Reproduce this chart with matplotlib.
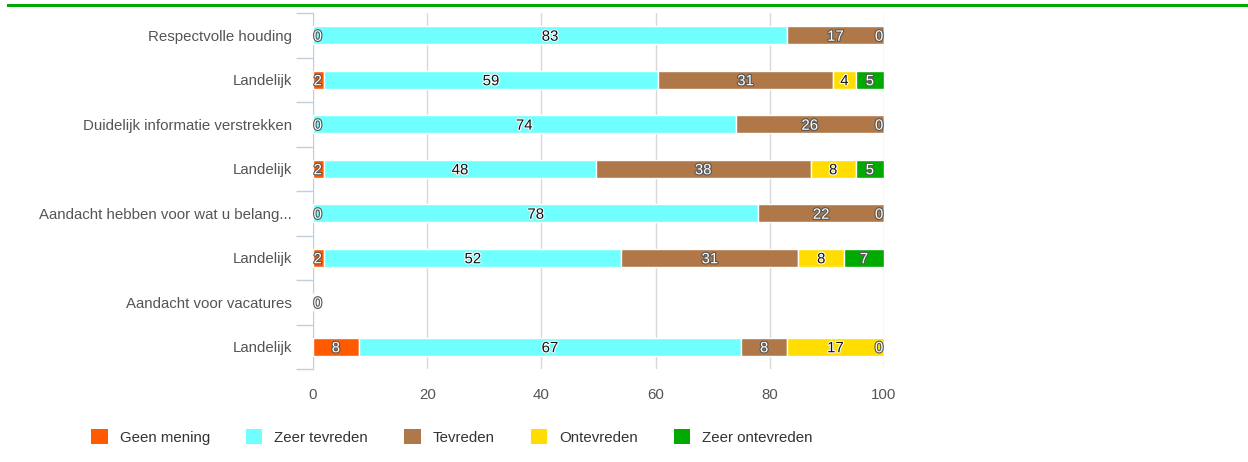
import matplotlib
matplotlib.use("Agg")
import matplotlib.pyplot as plt
import matplotlib.patheffects as pe
from matplotlib.lines import Line2D
import numpy as np

plt.rcParams['font.family'] = ['Liberation Sans', 'DejaVu Sans']

categories = ["Respectvolle houding", "Landelijk", "Duidelijk informatie verstrekken", "Landelijk",
              "Aandacht hebben voor wat u belang...", "Landelijk", "Aandacht voor vacatures", "Landelijk"]
series_names = ["Geen mening", "Zeer tevreden", "Tevreden", "Ontevreden", "Zeer ontevreden"]
geen_mening = [0, 2, 0, 2, 0, 2, 0, 8]
zeer_tevreden = [83, 59, 74, 48, 78, 52, None, 67]
tevreden = [17, 31, 26, 38, 22, 31, None, 8]
ontevreden = [0, 4, 0, 8, 0, 8, None, 17]
zeer_ontevreden = [None, 5, None, 5, None, 7, None, 0]
x_ticks = [0, 20, 40, 60, 80, 100]

colors = ["#FF5A00", "#70FFFF", "#B07848", "#FFDD00", "#00AA00"]
dark_text = [False, True, False, True, False]

all_series = [geen_mening, zeer_tevreden, tevreden, ontevreden, zeer_ontevreden]

fig = plt.figure(figsize=(12.48, 4.62), dpi=100)
ax = fig.add_axes([313/1248, 1-369/462, 571/1248, 356/462])

# top green rule
fig.add_artist(Line2D([8/1248, 1], [1-5/462, 1-5/462], color="#00AA00", lw=2.2))

fs = 10.8
n = len(categories)
ypos = np.arange(n)
totals = []
for i in range(n):
    totals.append(sum(s[i] for s in all_series if s[i] is not None))

left = np.zeros(n)
for k, (name, s) in enumerate(zip(series_names, all_series)):
    for i in range(n):
        if s[i] is None:
            continue
        w = s[i] / totals[i] * 100 if totals[i] > 0 else 0
        ax.barh(i, w, left=left[i], height=0.41, color=colors[k], edgecolor="white", linewidth=1, zorder=3)
        c = left[i] + w / 2
        ha = "center"
        if c < 1.3:
            c, ha = 0.1, "left"
        elif c > 98.7:
            c, ha = 99.9, "right"
        if dark_text[k] and w > 0:
            ax.text(c, i, str(s[i]), ha=ha, va="center_baseline", fontsize=fs, color="#111111", zorder=5,
                    path_effects=[pe.withStroke(linewidth=1.5, foreground="white")])
        else:
            ax.text(c, i, str(s[i]), ha=ha, va="center_baseline", fontsize=fs, color="white", zorder=5,
                    path_effects=[pe.withStroke(linewidth=1.6, foreground="#555555")])
        left[i] += w

# legend handles
for k, name in enumerate(series_names):
    ax.barh([np.nan], [0], color=colors[k], label=name)

ax.set_xlim(0, 100)
ax.set_ylim(n - 0.5, -0.5)
ax.set_xticks(x_ticks)
ax.set_yticks(ypos)
ax.set_yticklabels(categories)
ax.set_yticks(np.arange(n + 1) - 0.5, minor=True)
ax.tick_params(axis="y", which="major", length=0, pad=15, labelsize=fs, labelcolor="#555555")
ax.tick_params(axis="y", which="minor", length=12, color="#C0D0E0", width=1)
ax.tick_params(axis="x", length=0, pad=14, labelsize=fs, labelcolor="#555555")
ax.grid(axis="x", color="#D8D8D8", lw=1, zorder=0)
for sp in ["top", "right", "bottom"]:
    ax.spines[sp].set_visible(False)
ax.spines["left"].set_color("#C0D0E0")

handles, labels = ax.get_legend_handles_labels()
fig.legend(handles, labels, loc="center", bbox_to_anchor=(452/1248, 1-437/462), ncol=5,
           frameon=False, fontsize=fs, handlelength=1.1, handleheight=1.1, handletextpad=0.8,
           columnspacing=2.4, labelcolor="#333333")

fig.savefig("out.png", dpi=100)
